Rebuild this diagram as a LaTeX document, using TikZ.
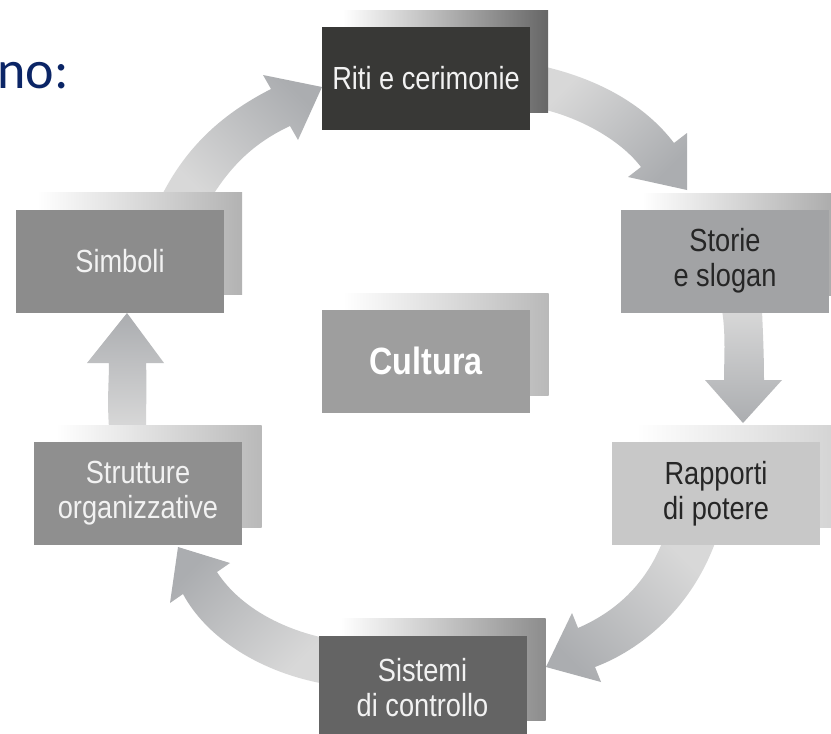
\documentclass[tikz,border=0pt]{standalone}
\usepackage{fontspec}
\newfontfamily\boxfont{Liberation Sans}[FakeStretch=0.85]
\newfontfamily\titlefont{Carlito}
\definecolor{navy}{HTML}{0B2566}
\definecolor{arrL}{HTML}{D8D8D8}
\definecolor{arrD}{HTML}{ABADB0}
\definecolor{fRiti}{HTML}{383836}
\definecolor{fStorie}{HTML}{A2A3A5}
\definecolor{fSimb}{HTML}{8C8C8C}
\definecolor{fCult}{HTML}{9E9E9E}
\definecolor{fStrut}{HTML}{8F8F8F}
\definecolor{fRapp}{HTML}{C8C8C8}
\definecolor{fSist}{HTML}{646464}
\definecolor{txtDark}{HTML}{262626}
\definecolor{txtLight}{HTML}{F2F2F2}
\begin{document}
\begin{tikzpicture}[x=1pt,y=-1pt,
  frontbox/.style={rectangle, minimum width=208pt, minimum height=103pt, inner sep=0pt,
    align=center, font=\boxfont\fontsize{32}{35}\selectfont},
  backbox/.style={rectangle, minimum width=205pt, minimum height=102pt, inner sep=0pt,
    left color=white, right color=#1},
  blockarrow/.style={top color=arrD, bottom color=arrL, shading angle=#1}
]
\useasboundingbox (0,0) rectangle (831,734);
\fill[white] (0,0) rectangle (831,734);

% cut-off title text
\node[anchor=base west, inner sep=0pt, text=navy, font=\titlefont\fontsize{54}{60}\selectfont] (title) at (-3,88) {no:};

% block arrows
\shade[blockarrow=-45] (162,195) .. controls (190,140) and (230,110) .. (271,89) -- (263,75) -- (322,87) -- (298,140) -- (290,126) .. controls (260,140) and (235,160) .. (213,195) -- cycle;
\shade[blockarrow=-135] (546,67) .. controls (600,80) and (645,105) .. (674,143) -- (687,133) -- (687,190) -- (628,177) -- (641,167) .. controls (622,142) and (585,120) .. (546,110) -- cycle;
\shade[blockarrow=180] (722,310) .. controls (726,335) and (724,360) .. (724,380) -- (705,380) -- (743,423) -- (782,380) -- (764,380) .. controls (764,355) and (763,335) .. (762,310) -- cycle;
\shade[blockarrow=135] (662,543) .. controls (645,585) and (615,612) .. (578,628) -- (572,613) -- (546,667) -- (601,682) -- (595,667) .. controls (640,650) and (690,610) .. (715,543) -- cycle;
\shade[blockarrow=45] (320,637) .. controls (270,625) and (235,600) .. (217,572) -- (230,563) -- (178,547) -- (170,603) -- (183,594) .. controls (205,635) and (255,670) .. (320,683) -- cycle;
\shade[blockarrow=0] (109,428) .. controls (107,400) and (109,380) .. (109,363) -- (87,363) -- (127,313) -- (164,363) -- (146,363) .. controls (147,385) and (146,405) .. (146,428) -- cycle;

% back boxes
\node[backbox=gray!80!black] (ritiB) at (445.5,61) {};
\node[backbox=gray!70] (storieB) at (744.5,244) {};
\node[backbox=gray!60] (simbB) at (139.5,243) {};
\node[backbox=gray!55] (cultB) at (446,344) {};
\node[backbox=gray!55] (strutB) at (159,476) {};
\node[backbox=gray!35] (rappB) at (738.5,476) {};
\node[backbox=gray!90] (sistB) at (443,669) {};

% front boxes
\node[frontbox, fill=fRiti, text=txtLight] (riti) at (426,78.5) {Riti e cerimonie};
\node[frontbox, fill=fStorie, text=txtDark] (storie) at (725,261) {Storie\\e slogan};
\node[frontbox, fill=fSimb, text=txtLight] (simb) at (120,261) {Simboli};
\node[frontbox, fill=fCult, text=white, font=\boxfont\bfseries\fontsize{38}{42}\selectfont] (cult) at (426,361) {Cultura};
\node[frontbox, fill=fStrut, text=txtLight] (strut) at (138,493.5) {Strutture\\organizzative};
\node[frontbox, fill=fRapp, text=txtDark] (rapp) at (716,493.5) {Rapporti\\di potere};
\node[frontbox, fill=fSist, text=txtLight] (sist) at (422.5,687.5) {Sistemi\\di controllo};
\end{tikzpicture}
\end{document}
